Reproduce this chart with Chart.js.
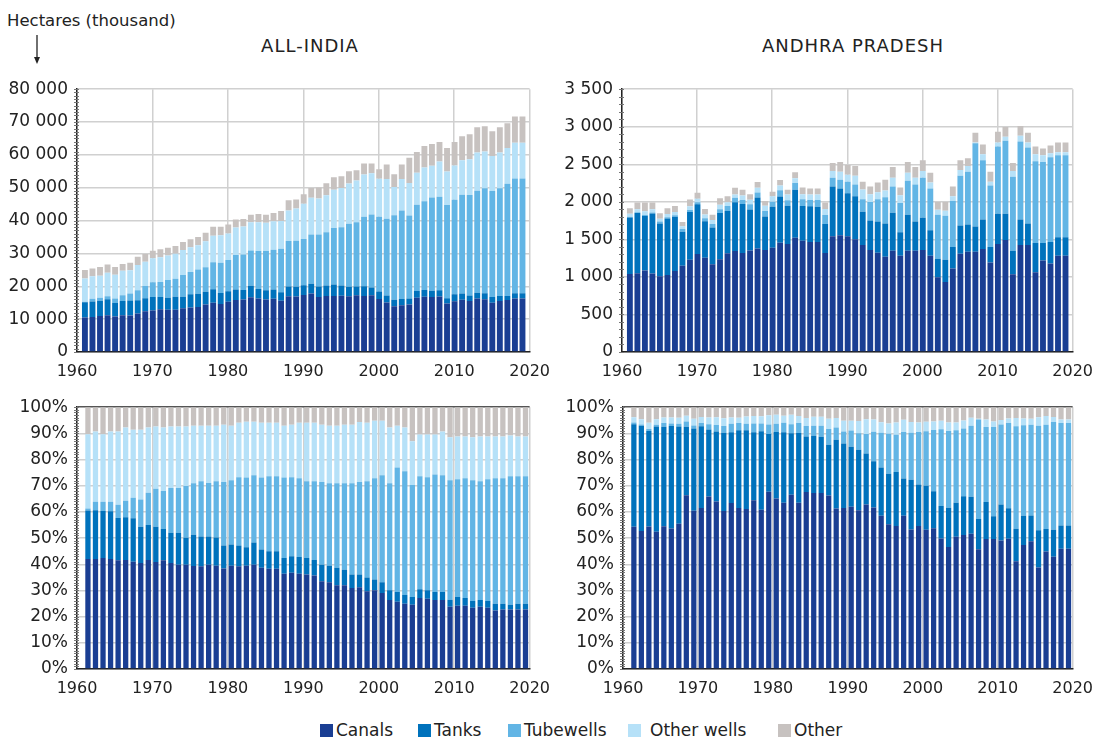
<!DOCTYPE html>
<html>
<head>
<meta charset="utf-8">
<script src="https://cdn.jsdelivr.net/npm/chart.js@4.4.1/dist/chart.umd.min.js"></script>
<style>
body { margin:0; width:1103px; height:738px; background:#fff; font-family:"DejaVu Sans", sans-serif; color:#222; position:relative; overflow:hidden; }
canvas { position:absolute; }
.title { position:absolute; top:35px; font-size:18px; letter-spacing:1px; transform:translateX(-50%); white-space:nowrap; }
#unit { position:absolute; left:7px; top:11px; font-size:16.5px; white-space:nowrap; }
#arrow { position:absolute; left:31px; top:35px; }
.item { position:absolute; top:720px; font-size:17px; white-space:nowrap; }
.item i { position:absolute; left:0; top:4px; width:13px; height:13px; }
</style>
</head>
<body>
<div id="unit">Hectares (thousand)</div>
<svg id="arrow" width="12" height="32"><line x1="6" y1="0" x2="6" y2="25" stroke="#222" stroke-width="1.3"/><path d="M3 22 L6 29 L9 22 Z" fill="#222"/></svg>
<div class="title" style="left:310px">ALL-INDIA</div>
<div class="title" style="left:853px">ANDHRA PRADESH</div>

<canvas id="indiaAbs" width="560" height="312" style="left:0;top:70px"></canvas>
<canvas id="apAbs" width="558" height="312" style="left:545px;top:70px"></canvas>
<canvas id="indiaPct" width="560" height="311" style="left:0;top:388px"></canvas>
<canvas id="apPct" width="557" height="311" style="left:546px;top:388px"></canvas>

<div class="item" style="left:320px;padding-left:16px"><i style="background:#1a3e93"></i>Canals</div>
<div class="item" style="left:418px;padding-left:16px"><i style="background:#0072bc"></i>Tanks</div>
<div class="item" style="left:508px;padding-left:16px"><i style="background:#62b5e5"></i>Tubewells</div>
<div class="item" style="left:628px;padding-left:22px"><i style="background:#b6e1f8"></i>Other wells</div>
<div class="item" style="left:778px;padding-left:16px"><i style="background:#c7c2c0"></i>Other</div>

<script>
const years = [1961,1962,1963,1964,1965,1966,1967,1968,1969,1970,
  1971,1972,1973,1974,1975,1976,1977,1978,1979,1980,
  1981,1982,1983,1984,1985,1986,1987,1988,1989,1990,
  1991,1992,1993,1994,1995,1996,1997,1998,1999,2000,
  2001,2002,2003,2004,2005,2006,2007,2008,2009,2010,
  2011,2012,2013,2014,2015,2016,2017,2018,2019];

// All-India, thousand hectares
const indiaCanals = [10480,10670,10980,11170,10770,11150,11130,11750,12400,12600,
  13020,12840,12860,13330,13510,13720,14450,15010,14630,15290,
  15800,15960,16640,16250,16010,16200,15620,17000,16890,17330,
  17810,16780,17010,17020,17120,17000,17250,17050,17280,16120,
  15070,13900,14220,14480,16500,16800,16710,16870,14780,15460,
  15900,15510,16280,16080,14990,15530,15800,16280,16280];
const indiaTanks = [4640,4720,4640,4870,4170,4400,4540,4000,3990,4130,
  3730,3650,3940,3480,4080,3990,3920,4120,3350,3180,
  3220,2880,3550,2940,2800,2830,2570,2910,2970,3020,
  2940,3160,3240,3560,3160,2860,2710,2990,2350,2280,
  2110,2000,1940,1770,2070,2070,1900,1920,1620,2110,
  1910,1720,1780,1790,1750,1510,1250,1580,1580];
const indiaTubewells = [180,840,930,960,1320,1690,2120,3020,3670,4470,
  4540,5420,5520,6600,6760,7390,7410,8190,9220,9510,
  10480,10810,10740,11550,11960,12100,13210,13910,13970,14060,
  15020,15830,16240,17180,17710,19200,19520,21120,22210,22740,
  23350,25750,26950,25300,26250,27020,28420,28500,28380,28760,
  30090,30560,30990,31950,32260,32830,34170,34920,34920];
const indiaOtherWells = [7090,6810,6680,7130,7230,7480,7070,7740,7420,7330,
  7580,7450,7590,7610,7510,7420,7950,8080,8340,8070,
  8420,8590,8530,8780,8570,8670,8450,9290,9840,10750,
  11180,10970,11260,11650,11930,12270,12720,12860,12570,11570,
  12110,8600,9540,9870,9740,10280,9690,10670,10180,10420,
  10450,10870,11700,11200,10690,10880,10860,10900,10900];
const indiaOther = [2570,2360,2670,2470,2410,2090,2340,2490,2320,2280,
  2440,2350,2390,2480,2440,2480,2580,2700,2550,2750,
  2380,2270,2340,2480,2470,2500,3050,3090,2740,2830,
  2940,3360,3650,3780,3590,3690,3100,3390,2990,2890,
  4450,3840,4450,7680,6330,6520,6580,5940,7140,7160,
  7360,7630,7660,7690,7530,7660,7520,8030,8030];

// Andhra Pradesh, thousand hectares
const apCanals = [1040,1050,1085,1044,1009,1027,1080,1150,1228,1305,
  1255,1170,1236,1316,1344,1320,1353,1377,1360,1390,
  1454,1438,1522,1482,1465,1465,1319,1542,1555,1542,
  1503,1425,1360,1321,1269,1347,1282,1347,1347,1360,
  1282,996,931,1113,1308,1334,1334,1373,1191,1438,
  1490,1035,1425,1425,1061,1217,1178,1282,1282];
const apTanks = [750,800,725,802,702,750,721,453,638,663,
  488,488,614,561,651,650,546,681,445,543,
  618,509,638,464,475,468,385,662,623,571,
  572,442,390,416,442,507,312,481,390,429,
  338,247,299,286,377,364,338,390,208,403,
  351,312,338,286,390,234,286,247,247];
const apTubewells = [12,10,16,13,26,18,21,35,24,25,
  38,46,52,67,60,54,70,66,73,68,
  82,73,90,88,83,90,120,117,117,156,
  155,169,247,299,351,350,390,454,493,532,
  558,585,585,611,662,701,1109,792,818,896,
  974,987,1039,1013,1091,1078,1130,1091,1091];
const apOtherWells = [38,40,47,42,39,43,44,38,52,49,
  50,54,60,50,44,60,60,62,70,72,
  62,78,64,67,76,76,79,91,104,91,
  117,129,103,90,90,117,103,104,91,91,
  78,65,65,65,78,78,8,78,52,52,
  52,78,78,65,91,91,52,39,39];
const apOther = [74,92,119,91,73,76,79,56,89,80,
  75,70,87,81,88,77,71,79,62,62,
  75,63,81,90,79,79,87,104,130,130,
  130,104,104,130,143,143,104,143,143,143,
  130,104,117,129,130,104,130,130,130,143,
  130,104,130,130,104,91,104,130,130];

const seriesNames = ['Canals', 'Tanks', 'Tubewells', 'Other wells', 'Other'];
const seriesColors = ['#1a3e93', '#0072bc', '#62b5e5', '#b6e1f8', '#c7c2c0'];
const FAMILY = '"DejaVu Sans", sans-serif';

function spaced(v) {
    return String(v).replace(/\B(?=(\d{3})+(?!\d))/g, ' ');
}

// share of each source in the yearly total, for the lower panels
function toShares(lists) {
    const totals = years.map((y, i) => lists.reduce((s, l) => s + l[i], 0));
    return lists.map(l => l.map((v, i) => v / totals[i] * 100));
}

const minorTicks = {
    id: 'minorTicks',
    beforeDatasetsDraw(chart, args, opts) {
        const y = chart.scales.y, ctx = chart.ctx;
        ctx.save();
        ctx.strokeStyle = '#777';
        ctx.lineWidth = 1;
        for (let v = 0; v <= y.max; v += opts.step) {
            const py = Math.round(y.getPixelForValue(v)) + 0.5;
            ctx.beginPath();
            ctx.moveTo(y.right - 3, py);
            ctx.lineTo(y.right + 2, py);
            ctx.stroke();
        }
        ctx.restore();
    }
};

// barShift: the lower panels place their bars a little right of the year gridline
function showplot(id, lists, yMax, yStep, minorStep, pct, padRight, barShift, barFrac) {
    new Chart(document.getElementById(id), {
        type: 'bar',
        data: {
            labels: years,
            datasets: lists.map((l, k) => ({
                label: seriesNames[k],
                data: l,
                xAxisID: 'xb',
                backgroundColor: seriesColors[k],
                borderWidth: 0,
                barPercentage: 1,
                categoryPercentage: barFrac
            }))
        },
        plugins: [minorTicks],
        options: {
            responsive: false,
            animation: false,
            layout: { padding: { top: 12, right: padRight, left: 0, bottom: 0 } },
            plugins: {
                legend: { display: false },
                tooltip: { enabled: false },
                minorTicks: { step: minorStep }
            },
            scales: {
                xb: {
                    type: 'linear', position: 'bottom', display: false, stacked: true, offset: false,
                    min: 1960 - barShift, max: 2020 - barShift
                },
                x: {
                    type: 'linear', position: 'bottom', min: 1960, max: 2020, offset: false,
                    afterFit: s => { s.height = 30; },
                    ticks: { stepSize: 10, callback: v => String(v), color: '#222', font: { family: FAMILY, size: 16 }, padding: 10, maxRotation: 0 },
                    grid: { color: '#d0d0d0', lineWidth: 1.5, drawTicks: false, offset: false },
                    border: { color: '#222', width: 1.5 }
                },
                y: {
                    stacked: true, min: 0, max: yMax,
                    afterFit: s => { s.width = 77; },
                    ticks: { stepSize: yStep, callback: v => pct ? v + '%' : spaced(v), color: '#222', font: { family: FAMILY, size: 17 }, padding: 9 },
                    grid: {
                        color: c => (pct && c.tick && c.tick.value === 100) ? '#555' : '#d0d0d0',
                        lineWidth: 1.5, drawTicks: false
                    },
                    border: { color: '#222', width: 1.5 }
                }
            }
        }
    });
}

const india = [indiaCanals, indiaTanks, indiaTubewells, indiaOtherWells, indiaOther];
const ap = [apCanals, apTanks, apTubewells, apOtherWells, apOther];

showplot('indiaAbs', india, 80000, 10000, 1000, false, 24, 0.05, 0.78);
showplot('apAbs', ap, 3500, 500, 100, false, 21, 0.05, 0.78);
showplot('indiaPct', toShares(india), 100, 10, 1, true, 24, 0.45, 0.7);
showplot('apPct', toShares(ap), 100, 10, 1, true, 21, 0.45, 0.7);
</script>
</body>
</html>
